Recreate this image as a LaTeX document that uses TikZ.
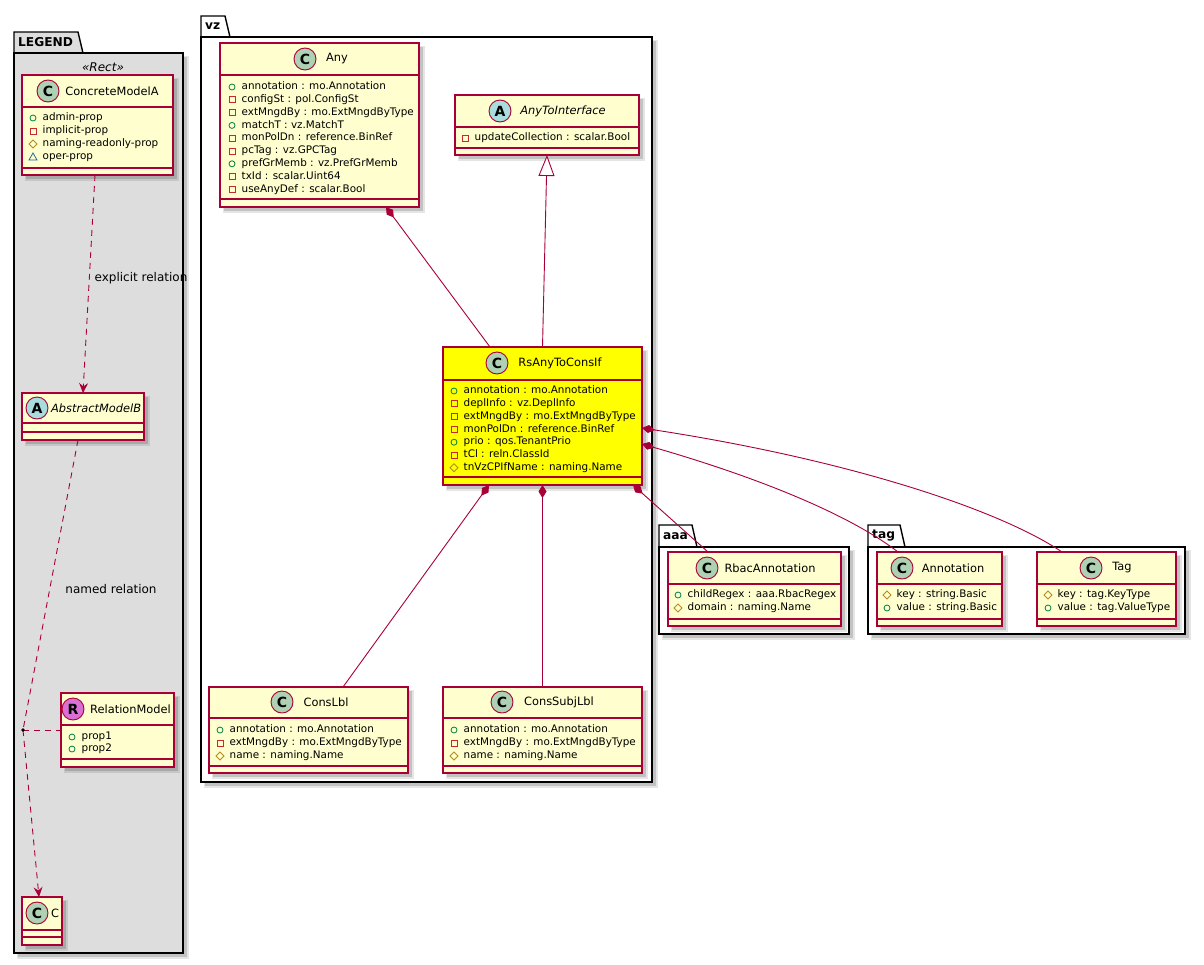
\documentclass[tikz,border=0pt]{standalone}
\usepackage{fontspec}
\setmainfont{DejaVu Sans}
\usetikzlibrary{arrows.meta,calc}
\definecolor{umlborder}{HTML}{A80036}
\definecolor{umlfill}{HTML}{FEFECE}
\definecolor{spotC}{HTML}{ADD1B2}
\definecolor{spotA}{HTML}{A9DCDF}
\definecolor{spotR}{HTML}{DA70D6}
\definecolor{pubc}{HTML}{038048}
\definecolor{privc}{HTML}{C82930}
\definecolor{protc}{HTML}{B38D22}
\definecolor{opc}{HTML}{1963A0}
\definecolor{legendbg}{HTML}{DDDDDD}
\definecolor{rsfill}{HTML}{FFFF00}
\tikzset{
 classnode/.style={draw=umlborder, line width=1.3pt, rectangle, inner sep=0pt, outer sep=0pt},
 classline/.style={draw=umlborder, line width=1.1pt},
 pkgnode/.style={draw=black, line width=1.4pt, rectangle, inner sep=0pt, outer sep=0pt},
 pkgline/.style={draw=black, line width=1.4pt, line join=miter},
 pkglabel/.style={font=\fontsize{12.2}{14}\selectfont\bfseries, inner sep=0pt},
 spotc/.style={circle, draw=umlborder, line width=0.9pt, minimum size=22pt, inner sep=0pt, font=\fontsize{14}{14}\selectfont\bfseries},
 cname/.style={font=\fontsize{11.4}{13}\selectfont, inner sep=0pt},
 aname/.style={font=\fontsize{11.4}{13}\selectfont\itshape, inner sep=0pt},
 attrtext/.style={font=\fontsize{10.4}{12}\selectfont, anchor=west, inner sep=0pt, text height=7.5pt, text depth=2pt},
 lbl/.style={font=\fontsize{12}{14}\selectfont, inner sep=0pt},
 stereo/.style={font=\fontsize{12}{14}\selectfont\itshape, inner sep=0pt},
 pubicon/.style={draw=pubc, line width=0.8pt},
 privicon/.style={draw=privc, line width=0.8pt},
 proticon/.style={draw=protc, line width=0.8pt},
 opicon/.style={draw=opc, line width=0.8pt},
 comp/.style={draw=umlborder, line width=0.9pt, {Diamond[length=13pt,width=8pt,fill=umlborder]}-},
 inherit/.style={draw=umlborder, line width=0.9pt, -{Triangle[open,length=21pt,width=16pt,fill=white]}},
 dep/.style={draw=umlborder, line width=0.9pt, dash pattern=on 6pt off 5pt, -{Stealth[length=10pt,width=9pt,inset=3.5pt]}},
 assocline/.style={draw=umlborder, line width=0.9pt, dash pattern=on 6pt off 5pt},
}
\newcommand\vispub[2]{\draw[pubicon] (#1,#2) circle[radius=3pt];}
\newcommand\vispriv[2]{\draw[privicon] ({#1-3},{#2-3}) rectangle ({#1+3},{#2+3});}
\newcommand\visprot[2]{\draw[proticon] ({#1-4},#2) -- (#1,{#2-4}) -- ({#1+4},#2) -- (#1,{#2+4}) -- cycle;}
\newcommand\visop[2]{\draw[opicon] ({#1-4},{#2+3}) -- ({#1+4},{#2+3}) -- (#1,{#2-4}) -- cycle;}
\newcommand\attrrow[5]{%
  \csname vis#2\endcsname{#3}{#4}%
  \node[attrtext] (#1) at ({#3+9.5},#4) {#5};%
}
\newcommand\classbox[8]{%
  \fill[black, opacity=0.10] ({#2+3},{#3+3}) rectangle ({#4+6},{#5+6});%
  \fill[black, opacity=0.15] ({#2+4},{#3+4}) rectangle ({#4+4},{#5+4});%
  \node[classnode, fill=#8, anchor=north west, minimum width={(#4-#2)*1pt}, minimum height={(#5-#3)*1pt}] (#1) at (#2,#3) {};%
  \draw[classline] (#2,#6) -- (#4,#6);%
  \draw[classline] (#2,#7) -- (#4,#7);%
}
\newcommand\spot[5]{\node[spotc, fill=#4] (#1) at (#2,#3) {#5};}
\newcommand\pkgbox[9]{%
  \fill[black, opacity=0.10] ({#2+3},{#5+3}) rectangle ({#6+6},{#7+6});%
  \fill[black, opacity=0.15] ({#2+4},{#5+4}) rectangle ({#6+4},{#7+4});%
  \draw[pkgline, fill=#8] (#2,#5) -- (#2,#3) -- (#4,#3) -- ({#4+5},#5) -- cycle;%
  \node[pkgnode, fill=#8, anchor=north west, minimum width={(#6-#2)*1pt}, minimum height={(#7-#5)*1pt}] (#1) at (#2,#5) {};%
  \node[pkglabel, anchor=west] (#1-label) at ({#2+4},{(#3+#5)/2}) {#9};%
}
\begin{document}
\begin{tikzpicture}[x=1pt,y=-1pt]
\useasboundingbox[fill=white] (0,0) rectangle (1204,964);

% ---------- packages ----------
\pkgbox{legend}{14}{32}{78}{53}{183}{953}{legendbg}{LEGEND}
\pkgbox{vz}{201}{16}{225}{37}{652}{782}{white}{vz}
\pkgbox{aaa}{659}{525}{692}{547}{849}{634}{white}{aaa}
\pkgbox{tagpkg}{868}{525}{900}{547}{1185}{634}{white}{tag}

% ---------- legend ----------
\node[stereo] (rectst) at (103,67) {«Rect»};

\classbox{cma}{22}{75}{173}{175}{107}{168}{umlfill}
\spot{cma-s}{48}{91}{spotC}{C}
\node[cname] (cma-n) at (112,91) {ConcreteModelA};
\attrrow{cma-a1}{pub}{33}{118}{admin-prop}
\attrrow{cma-a2}{priv}{33}{131}{implicit-prop}
\attrrow{cma-a3}{prot}{33}{144}{naming-readonly-prop}
\attrrow{cma-a4}{op}{33}{157}{oper-prop}

\classbox{amb}{22}{393}{144}{440}{423}{432}{umlfill}
\spot{amb-s}{37}{408}{spotA}{A}
\node[aname, anchor=west] (amb-n) at (51,408) {AbstractModelB};

\classbox{relm}{61}{693}{174}{767}{725}{759}{umlfill}
\spot{relm-s}{73}{709}{spotR}{R}
\node[cname, anchor=west] (relm-n) at (90,709) {RelationModel};
\attrrow{relm-a1}{pub}{72}{737}{prop1}
\attrrow{relm-a2}{pub}{72}{749}{prop2}

\classbox{cc}{22}{897}{62}{945}{930}{937}{umlfill}
\spot{cc-s}{37}{913}{spotC}{C}
\node[cname, anchor=west] (cc-n) at (51,913) {C};

\coordinate (assoc) at (23,730);
\draw[dep] ([xshift=-2.5pt]cma.south) -- (amb.north);
\node[lbl] (explbl) at (141,278) {explicit relation};
\draw[assocline] ([xshift=-5pt]amb.south) -- (assoc);
\draw[dep] (assoc) -- ([xshift=-3pt]cc.north);
\draw[assocline] (assoc) -- (relm.west);
\fill[black] (assoc) circle[radius=1.8pt];
\node[lbl] (namedlbl) at (111,589) {named relation};

% ---------- vz ----------
\classbox{any}{220}{43}{419}{207}{75}{199}{umlfill}
\spot{any-s}{305}{59}{spotC}{C}
\node[cname] (any-n) at (337,59) {Any};
\attrrow{any-a1}{pub}{232}{87}{annotation : mo.Annotation}
\attrrow{any-a2}{priv}{232}{99.8}{configSt : pol.ConfigSt}
\attrrow{any-a3}{priv}{232}{112.6}{extMngdBy : mo.ExtMngdByType}
\attrrow{any-a4}{pub}{232}{125.4}{matchT : vz.MatchT}
\attrrow{any-a5}{priv}{232}{138.2}{monPolDn : reference.BinRef}
\attrrow{any-a6}{priv}{232}{151}{pcTag : vz.GPCTag}
\attrrow{any-a7}{pub}{232}{163.8}{prefGrMemb : vz.PrefGrMemb}
\attrrow{any-a8}{priv}{232}{176.6}{txId : scalar.Uint64}
\attrrow{any-a9}{priv}{232}{189.4}{useAnyDef : scalar.Bool}

\classbox{ati}{455}{95}{639}{155}{127}{148}{umlfill}
\spot{ati-s}{500}{111}{spotA}{A}
\node[aname] (ati-n) at (563,111) {AnyToInterface};
\attrrow{ati-a1}{priv}{465}{138}{updateCollection : scalar.Bool}

\classbox{rs}{443}{347}{642}{485}{380}{477}{rsfill}
\spot{rs-s}{497}{363}{spotC}{C}
\node[cname] (rs-n) at (560,363) {RsAnyToConsIf};
\attrrow{rs-a1}{pub}{454}{391}{annotation : mo.Annotation}
\attrrow{rs-a2}{priv}{454}{403.8}{deplInfo : vz.DeplInfo}
\attrrow{rs-a3}{priv}{454}{416.6}{extMngdBy : mo.ExtMngdByType}
\attrrow{rs-a4}{priv}{454}{429.4}{monPolDn : reference.BinRef}
\attrrow{rs-a5}{pub}{454}{442.2}{prio : qos.TenantPrio}
\attrrow{rs-a6}{priv}{454}{455}{tCl : reln.ClassId}
\attrrow{rs-a7}{prot}{454}{467.8}{tnVzCPIfName : naming.Name}

\classbox{cons}{209}{687}{408}{773}{718}{766}{umlfill}
\spot{cons-s}{282}{702}{spotC}{C}
\node[cname] (cons-n) at (326,702) {ConsLbl};
\attrrow{cons-a1}{pub}{220}{730}{annotation : mo.Annotation}
\attrrow{cons-a2}{priv}{220}{743}{extMngdBy : mo.ExtMngdByType}
\attrrow{cons-a3}{prot}{220}{756}{name : naming.Name}

\classbox{subj}{443}{687}{642}{773}{718}{766}{umlfill}
\spot{subj-s}{502}{702}{spotC}{C}
\node[cname] (subj-n) at (559,702) {ConsSubjLbl};
\attrrow{subj-a1}{pub}{454}{730}{annotation : mo.Annotation}
\attrrow{subj-a2}{priv}{454}{743}{extMngdBy : mo.ExtMngdByType}
\attrrow{subj-a3}{prot}{454}{756}{name : naming.Name}

% ---------- aaa ----------
\classbox{rbac}{668}{552}{841}{626}{584}{619}{umlfill}
\spot{rbac-s}{707}{568}{spotC}{C}
\node[cname] (rbac-n) at (770,568) {RbacAnnotation};
\attrrow{rbac-a1}{pub}{678}{595}{childRegex : aaa.RbacRegex}
\attrrow{rbac-a2}{prot}{678}{608}{domain : naming.Name}

% ---------- tag ----------
\classbox{annot}{877}{552}{1002}{626}{584}{619}{umlfill}
\spot{annot-s}{902}{568}{spotC}{C}
\node[cname] (annot-n) at (953,568) {Annotation};
\attrrow{annot-a1}{prot}{887}{595}{key : string.Basic}
\attrrow{annot-a2}{pub}{887}{608}{value : string.Basic}

\classbox{tagc}{1037}{552}{1176}{626}{584}{619}{umlfill}
\spot{tagc-s}{1091}{568}{spotC}{C}
\node[cname] (tagc-n) at (1122,568) {Tag};
\attrrow{tagc-a1}{prot}{1048}{595}{key : tag.KeyType}
\attrrow{tagc-a2}{pub}{1048}{608}{value : tag.ValueType}

% ---------- connectors ----------
\draw[comp] ([xshift=66.5pt]any.south) -- ([xshift=-52.5pt]rs.north);
\draw[inherit] (rs.north) -- (ati.south);
\draw[comp] ([xshift=-53.5pt]rs.south) -- ([xshift=34.5pt]cons.north);
\draw[comp] (rs.south) -- (subj.north);
\draw[comp] ([xshift=90.5pt]rs.south) -- ([xshift=-46.5pt]rbac.north);
\draw[comp] ([yshift=-12pt]rs.east) .. controls (850,460) and (1000,510) .. ([xshift=-44.5pt]tagc.north);
\draw[comp] ([yshift=-28pt]rs.east) .. controls (760,478) and (850,515) .. ([xshift=-41.5pt]annot.north);
\end{tikzpicture}
\end{document}
